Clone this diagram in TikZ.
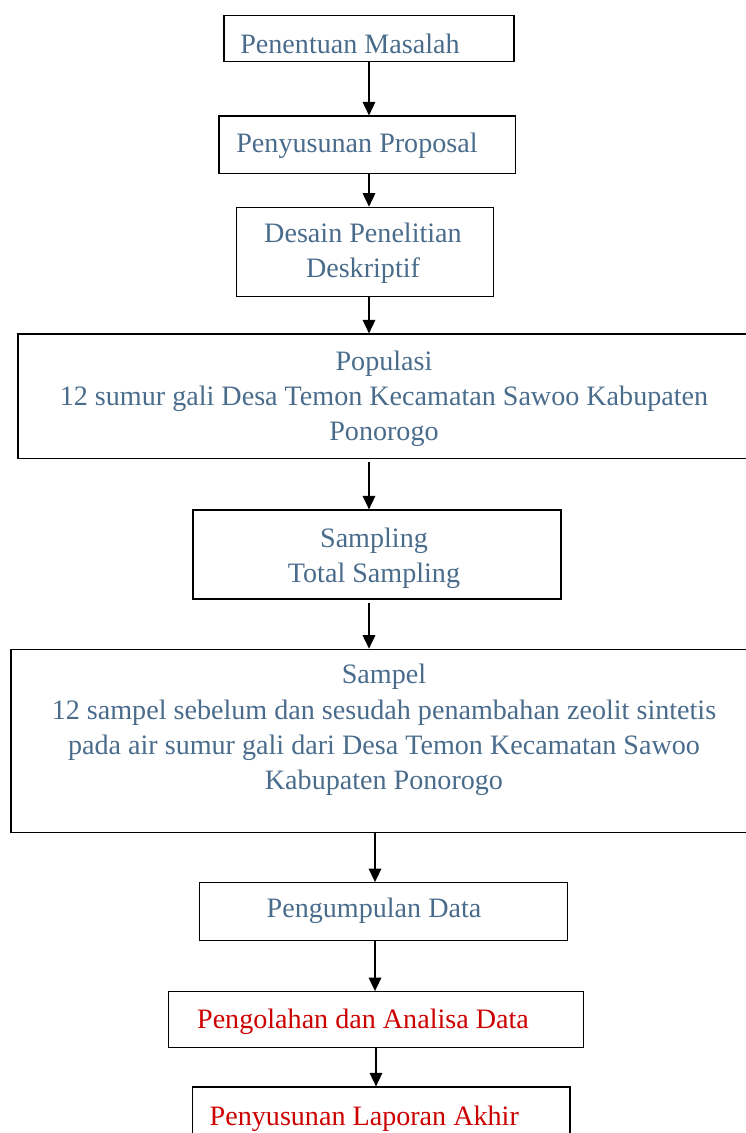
\documentclass[tikz,border=0pt]{standalone}
\usepackage{fontspec}
\setmainfont{Liberation Serif}
\usetikzlibrary{
  arrows.meta,
  positioning
}
\definecolor{stepcolor}{RGB}{74, 108, 140}
\definecolor{finalcolor}{RGB}{204, 0, 0}
\tikzset{
flowbox/.style 2 args={
  draw=black,
  line width=0.7pt,
  minimum width=#1*0.02cm,
  minimum height=#2*0.02cm,
  inner sep=0pt
},
steptext/.style={
  align=center,
  font=\fontsize{16}{20}\selectfont,
  text=stepcolor,
  inner sep=0pt
},
finaltext/.style={
  steptext,
  text=finalcolor
},
flowarrow/.style={
  -{Triangle[length=2.7mm,width=2.5mm]},
  line width=0.95pt
}
}
\begin{document}
\begin{tikzpicture}[x=0.02cm,y=-0.02cm]
        \useasboundingbox (0,0) rectangle (745,1133);
        % boxes
        \node[flowbox={290}{46}] (masalah) at (369,38.7) {};
        \node[flowbox={296.7}{57.3}] (proposal) at (367.4,144.7) {};
        \node[flowbox={257}{89.4}] (desain) at (365.2,252) {};
        \node[flowbox={734}{124.3}] (populasi) at (385,396.2) {};
        \node[flowbox={368}{89}] (sampling) at (377,554.5) {};
        \node[flowbox={741}{183.4}] (sampel) at (381.5,741) {};
        \node[flowbox={368.4}{58}] (pengumpulan) at (383.5,911.7) {};
        \node[flowbox={415}{56}] (pengolahan) at (375.8,1019.7) {};
        \node[flowbox={377.7}{63}] (laporan) at (381.2,1118.5) {};
        % texts
        \node[steptext] (masalah-txt) at (350,43.4) {Penentuan Masalah};
        \node[steptext] (proposal-txt) at (357,146.1) {Penyusunan Proposal};
        \node[steptext] (desain-txt) at (363,253.4) {Desain Penelitian\\Deskriptif};
        \node[steptext] (populasi-txt) at (384,399) {Populasi\\12 sumur gali Desa Temon Kecamatan Sawoo Kabupaten\\Ponorogo};
        \node[steptext] (sampling-txt) at (374,557.9) {Sampling\\Total Sampling};
        \node[steptext] (sampel-txt) at (384,729.9) {Sampel\\12 sampel sebelum dan sesudah penambahan zeolit sintetis\\pada air sumur gali dari Desa Temon Kecamatan Sawoo\\Kabupaten Ponorogo};
        \node[steptext] (pengumpulan-txt) at (374,911.1) {Pengumpulan Data};
        \node[finaltext] (pengolahan-txt) at (363,1021.4) {Pengolahan dan Analisa Data};
        \node[finaltext] (laporan-txt) at (364.3,1118.4) {Penyusunan Laporan Akhir};
        % arrows
        \coordinate (spineA) at (369,0);
        \coordinate (spineB) at (375,0);
        \coordinate (spineC) at (376,0);
        \draw[flowarrow] (masalah.south -| spineA) -- (proposal.north -| spineA);
        \draw[flowarrow] (proposal.south -| spineA) -- (desain.north -| spineA);
        \draw[flowarrow] (desain.south -| spineA) -- (populasi.north -| spineA);
        \draw[flowarrow] ([yshift=-2pt]populasi.south -| spineA) -- (sampling.north -| spineA);
        \draw[flowarrow] ([yshift=-2pt]sampling.south -| spineA) -- (sampel.north -| spineA);
        \draw[flowarrow] (sampel.south -| spineB) -- (pengumpulan.north -| spineB);
        \draw[flowarrow] (pengumpulan.south -| spineB) -- (pengolahan.north -| spineB);
        \draw[flowarrow] (pengolahan.south -| spineC) -- (laporan.north -| spineC);
\end{tikzpicture}
\end{document}
